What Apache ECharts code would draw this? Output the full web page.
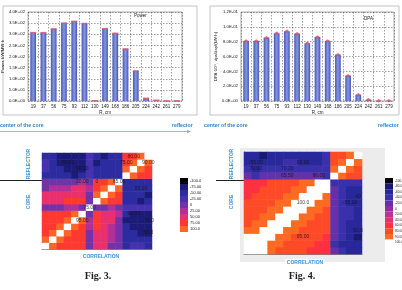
<!DOCTYPE html>
<html>
<head>
<meta charset="utf-8">
<script src="https://cdn.jsdelivr.net/npm/echarts@6/dist/echarts.min.js"></script>
<style>
  html, body { margin: 0; padding: 0; background: #fff; }
  #main { width: 402px; height: 290px; }
</style>
</head>
<body>
<div id="main"></div>
<script>
// radial positions, cm
var R_CM = ['19', '37', '56', '75', '93', '112', '130', '149', '168', '186', '205', '224', '242', '261', '279'];
// Fig.3 top: power per channel
var POWER = [307, 307, 324, 350, 358, 348, 1, 325, 304, 234, 135, 12, 3, 0.5, 0.5];
// Fig.4 top: DPA per channel
var DPA = [0.081, 0.081, 0.0854, 0.0912, 0.094, 0.0908, 0.0778, 0.0863, 0.081, 0.0625, 0.0342, 0.0085, 0.0018, 0.0003, 0.0002];

// axis ranges [min, max, step]
var POWER_AXIS = [0, 400, 50];
var DPA_AXIS = [0, 0.12, 0.02];

// correlation matrices, row = y index from bottom, col = x index from left
var CORR3 = [
  [100, 92, 86, 80, 76, 72, 5, 60, 40, 10, -10, -40, -30, -35, -45],
  [92, 100, 92, 86, 80, 76, 10, 55, 45, 15, -5, -45, -50, -55, -60],
  [86, 92, 100, 92, 86, 80, 0, 50, 50, 20, 0, -55, -60, -65, -70],
  [80, 86, 92, 100, 92, 86, 15, 65, 55, 30, 5, -60, -65, -70, -72],
  [76, 80, 86, 92, 100, 92, 20, 70, 60, 40, 10, -65, -70, -70, -75],
  [72, 76, 80, 86, 92, 100, 10, 72, 62, 45, 20, -60, -65, -68, -70],
  [5, 10, 0, 15, 20, 10, 100, 10, 5, 15, 0, -20, -15, -25, -20],
  [60, 55, 50, 65, 70, 72, 10, 100, 88, 82, 78, -55, -60, -65, -62],
  [40, 45, 50, 55, 60, 62, 5, 88, 100, 88, 82, -50, -58, -62, -65],
  [10, 15, 20, 30, 40, 45, 15, 82, 88, 100, 88, -45, -55, -60, -58],
  [-10, -5, 0, 5, 10, 20, 0, 78, 82, 88, 100, -40, -50, -55, -52],
  [-40, -45, -55, -60, -65, -60, -20, -55, -50, -45, -40, 100, 90, 85, 80],
  [-30, -50, -60, -65, -70, -65, -15, -60, -58, -55, -50, 90, 100, 90, 85],
  [-35, -55, -65, -70, -70, -68, -25, -65, -62, -60, -55, 85, 90, 100, 90],
  [-45, -60, -70, -72, -75, -70, -20, -62, -65, -58, -52, 80, 85, 90, 100]
];
var CORR4 = [
  [100, 97, 97, 91, 85, 80, 75, 72, 68, 65, 62, -25, -45, -60, -65],
  [97, 100, 97, 93, 91, 85, 80, 75, 72, 68, 65, -30, -50, -62, -68],
  [97, 97, 100, 97, 93, 91, 85, 80, 75, 72, 68, -20, -40, -55, -70],
  [91, 93, 97, 100, 97, 93, 91, 85, 80, 75, 72, -15, -45, -58, -65],
  [85, 91, 93, 97, 100, 97, 93, 91, 85, 80, 75, -25, -30, -60, -62],
  [80, 85, 91, 93, 97, 100, 97, 93, 91, 85, 80, -20, -35, -40, -60],
  [75, 80, 85, 91, 93, 97, 100, 97, 93, 91, 85, -15, -40, -45, -55],
  [72, 75, 80, 85, 91, 93, 97, 100, 97, 93, 91, -10, -30, -55, -65],
  [68, 72, 75, 80, 85, 91, 93, 97, 100, 97, 93, -20, -35, -58, -68],
  [65, 68, 72, 75, 80, 85, 91, 93, 97, 100, 97, -25, -45, -62, -60],
  [62, 65, 68, 72, 75, 80, 85, 91, 93, 97, 100, -35, -40, -45, -40],
  [-25, -30, -20, -15, -25, -20, -15, -10, -20, -25, -35, 100, 92, 85, 80],
  [-45, -50, -40, -45, -30, -35, -40, -30, -35, -45, -40, 92, 100, 92, 85],
  [-60, -62, -55, -58, -60, -40, -45, -55, -58, -62, -45, 85, 92, 100, 92],
  [-65, -68, -70, -65, -62, -60, -55, -65, -68, -60, -40, 80, 85, 92, 100]
];

// value labels written on the maps: [x, y, text]
var NOTES3 = [
  [3, 13, '50.00'], [5, 12, '90.00'], [12, 14, '80.00'], [11, 13, '75.00'], [14, 13, '90.00'],
  [5, 10, '20.00'], [7, 10, '0'], [10, 10, '65.00'], [13, 9, '55.00'], [6, 6, '75.00'],
  [5, 4, '95.00'], [12, 5, '60.00'], [14, 4, '-70.0'], [14, 2, '50.0']
];
var NOTES4 = [
  [1, 13, '-55.00'], [7, 13, '90.00'], [1, 12, '70.00'], [5, 12, '70.20'], [5, 11, '65.50'],
  [9, 11, '96.00'], [7, 7, '100.0'], [14, 8, '40'], [13, 7, '-55.00'], [14, 3, '60.0'], [7, 2, '95.00']
];

// colour scales
var LEGEND3 = ['-100.0', '-75.00', '-50.00', '-25.00', '0', '25.00', '50.00', '75.00', '100.0'];
var COLORS3 = ['#000000', '#1c1c78', '#2c2ca0', '#4632b0', '#7432a8', '#b0309a', '#e8306e', '#ff3830', '#ff6626'];
var LEGEND4 = ['-100.0', '-80.00', '-60.00', '-40.00', '-20.00', '0', '20.00', '40.00', '60.00', '80.00', '90.00', '100.0'];
var COLORS4 = ['#000000', '#1a1a70', '#28289a', '#3a30ac', '#6630a8', '#9030a0', '#c0309a', '#e8306a', '#ff3040', '#ff4a28', '#ff6a22', '#ffffff'];
var BOUNDS4 = [-110, -90, -70, -50, -30, -10, 10, 30, 50, 70, 90, 96, 101];

var IDX = [];
for (var i = 0; i < 15; i++) IDX.push(String(i));

function sci(v) {
  if (v === 0) return '0.0E+00';
  var e = Math.floor(Math.log10(Math.abs(v)) + 1e-9);
  var m = v / Math.pow(10, e);
  var a = Math.abs(e);
  return m.toFixed(1) + 'E' + (e < 0 ? '-' : '+') + (a < 10 ? '0' + a : a);
}

function cells(mat) {
  var out = [];
  for (var y = 0; y < mat.length; y++) {
    for (var x = 0; x < mat[y].length; x++) {
      out.push([x, y, mat[y][x]]);
    }
  }
  return out;
}

function pieces3() {
  var p = [];
  for (var k = 0; k < LEGEND3.length; k++) {
    var c = -100 + 25 * k;
    p.push({ min: c - 12.5, max: k === LEGEND3.length - 1 ? 99.5 : c + 12.5, label: LEGEND3[k], color: COLORS3[k] });
  }
  return p;
}

function pieces4() {
  var p = [];
  for (var k = 0; k < LEGEND4.length; k++) {
    p.push({ min: BOUNDS4[k], max: BOUNDS4[k + 1], label: LEGEND4[k], color: COLORS4[k] });
  }
  return p;
}

var FONT = 'Liberation Sans, Arial, sans-serif';
var dash = { color: '#444', width: 0.5, type: [1.5, 1.5] };
var barColor = new echarts.graphic.LinearGradient(0, 0, 1, 0, [
  { offset: 0, color: '#4556b4' },
  { offset: 0.5, color: '#8796e2' },
  { offset: 1, color: '#4556b4' }
]);

function barX(gi) {
  return {
    gridIndex: gi, type: 'category', data: R_CM,
    axisLine: { show: false }, axisTick: { show: false },
    axisLabel: { fontSize: 4.5, margin: 3, interval: 0, color: '#222', fontFamily: FONT },
    splitLine: { show: true, interval: 0, lineStyle: dash },
    name: 'R, cm', nameLocation: 'middle', nameGap: 9,
    nameTextStyle: { fontSize: 4.5, color: '#222', fontFamily: FONT }
  };
}

function barY(gi, ax, name, gap) {
  return {
    gridIndex: gi, type: 'value', min: ax[0], max: ax[1], interval: ax[2],
    axisLine: { show: false }, axisTick: { show: false },
    axisLabel: { fontSize: 4.3, margin: 3, color: '#222', fontFamily: FONT, formatter: sci },
    splitLine: { show: true, lineStyle: dash },
    name: name, nameLocation: 'middle', nameGap: gap, nameRotate: 90,
    nameTextStyle: { fontSize: 4.3, color: '#222', fontFamily: FONT }
  };
}

var TICK_AT = [4, 7, 11, 14];
function mapAxis(gi) {
  return {
    gridIndex: gi, type: 'category', data: IDX,
    axisLabel: { show: false },
    axisLine: { lineStyle: { color: '#333', width: 0.6 } },
    axisTick: {
      length: 3, lineStyle: { color: '#333', width: 0.6 },
      interval: function (idx) { return TICK_AT.indexOf(idx) >= 0; }
    },
    splitLine: { show: false }
  };
}

function notes(xi, list) {
  return {
    type: 'scatter', xAxisIndex: xi, yAxisIndex: xi, symbolSize: 0, silent: true, z: 5,
    data: list.map(function (n) { return { value: [n[0], n[1]], name: n[2] }; }),
    label: { show: true, position: 'inside', formatter: '{b}', fontSize: 5, color: '#111', fontFamily: FONT }
  };
}

var blue = '#3a94d6';
var chart = echarts.init(document.getElementById('main'), null, { renderer: 'canvas' });
chart.setOption({
  animation: false,
  backgroundColor: '#fff',
  grid: [
    { left: 28, top: 12, width: 154, height: 89, show: true, borderColor: '#777', borderWidth: 0.6, backgroundColor: '#fff' },
    { left: 241, top: 12, width: 153, height: 89, show: true, borderColor: '#777', borderWidth: 0.6, backgroundColor: '#fff' },
    { left: 42, top: 153, width: 110, height: 96 },
    { left: 244, top: 152, width: 118, height: 102 }
  ],
  xAxis: [barX(0), barX(1), mapAxis(2), mapAxis(3)],
  yAxis: [
    barY(0, POWER_AXIS, 'Power, kW/MW\u00b7h', 16),
    barY(1, DPA_AXIS, 'DPA\u00b710\u207b\u2076, dpa/day/(kW\u00b7h)', 17),
    mapAxis(2), mapAxis(3)
  ],
  visualMap: [
    {
      type: 'piecewise', seriesIndex: 4, orient: 'vertical', inverse: true,
      left: 165, top: 163, itemWidth: 8, itemHeight: 6, itemGap: 0, itemSymbol: 'rect',
      textGap: 2, align: 'left', selectedMode: false,
      pieces: pieces3(), outOfRange: { color: '#ffffff' },
      textStyle: { fontSize: 4, color: '#222', fontFamily: FONT }
    },
    {
      type: 'piecewise', seriesIndex: 6, orient: 'vertical', inverse: true,
      left: 370, top: 163, itemWidth: 8, itemHeight: 5.6, itemGap: 0, itemSymbol: 'rect',
      textGap: 2, align: 'left', selectedMode: false,
      pieces: pieces4(), outOfRange: { color: '#ffffff' },
      textStyle: { fontSize: 3.2, color: '#222', fontFamily: FONT }
    }
  ],
  series: [
    { type: 'bar', xAxisIndex: 0, yAxisIndex: 0, data: POWER, barWidth: '56%', itemStyle: { color: barColor } },
    { type: 'scatter', xAxisIndex: 0, yAxisIndex: 0, data: POWER, symbol: 'rect', symbolSize: [6, 1.6], itemStyle: { color: '#d5506a' }, z: 4 },
    { type: 'bar', xAxisIndex: 1, yAxisIndex: 1, data: DPA, barWidth: '56%', itemStyle: { color: barColor } },
    { type: 'scatter', xAxisIndex: 1, yAxisIndex: 1, data: DPA, symbol: 'diamond', symbolSize: [5, 3.5], itemStyle: { color: '#d8485a' }, z: 4 },
    { type: 'heatmap', xAxisIndex: 2, yAxisIndex: 2, data: cells(CORR3), itemStyle: { borderWidth: 0 } },
    notes(2, NOTES3),
    { type: 'heatmap', xAxisIndex: 3, yAxisIndex: 3, data: cells(CORR4), itemStyle: { borderWidth: 0 } },
    notes(3, NOTES4)
  ],
  graphic: [
    // chart area frames of the two Excel plots
    { type: 'rect', shape: { x: 3, y: 6, width: 194, height: 109 }, style: { fill: null, stroke: '#c4c4c4', lineWidth: 1 }, z: -1 },
    { type: 'rect', shape: { x: 210, y: 6, width: 189, height: 109 }, style: { fill: null, stroke: '#c4c4c4', lineWidth: 1 }, z: -1 },
    { type: 'text', x: 134, y: 13, style: { text: 'Power', fontSize: 4.5, fill: '#222', fontFamily: FONT } },
    { type: 'text', x: 364, y: 16, style: { text: 'DPA', fontSize: 4.5, fill: '#222', fontFamily: FONT } },
    // under-axis captions
    { type: 'text', x: 0, y: 123, style: { text: 'center of the core', fontSize: 5.2, fontWeight: 'bold', fill: '#2a86cc', fontFamily: FONT } },
    { type: 'text', x: 172, y: 123, style: { text: 'reflector', fontSize: 5.2, fontWeight: 'bold', fill: '#2a86cc', fontFamily: FONT } },
    { type: 'text', x: 204, y: 123, style: { text: 'center of the core', fontSize: 5.2, fontWeight: 'bold', fill: '#2a86cc', fontFamily: FONT } },
    { type: 'text', x: 378, y: 123, style: { text: 'reflector', fontSize: 5.2, fontWeight: 'bold', fill: '#2a86cc', fontFamily: FONT } },
    { type: 'line', shape: { x1: 0, y1: 131.5, x2: 190, y2: 131.5 }, style: { stroke: '#6aaee0', lineWidth: 0.8 } },
    { type: 'polygon', shape: { points: [[191, 131.5], [187, 130], [187, 133]] }, style: { fill: '#6aaee0' } },
    // Fig.4 panel background
    { type: 'rect', shape: { x: 240, y: 148, width: 145, height: 114 }, style: { fill: '#ececec' }, z: -10 },
    // core / reflector separators
    { type: 'line', shape: { x1: 0, y1: 180.5, x2: 42, y2: 180.5 }, style: { stroke: '#222', lineWidth: 1 } },
    { type: 'line', shape: { x1: 216, y1: 180.5, x2: 244, y2: 180.5 }, style: { stroke: '#222', lineWidth: 1 } },
    { type: 'text', x: 29, y: 164, rotation: Math.PI / 2, style: { text: 'REFLECTOR', fontSize: 5, fontWeight: 'bold', fill: blue, align: 'center', verticalAlign: 'middle', fontFamily: FONT } },
    { type: 'text', x: 29, y: 202, rotation: Math.PI / 2, style: { text: 'CORE', fontSize: 5, fontWeight: 'bold', fill: blue, align: 'center', verticalAlign: 'middle', fontFamily: FONT } },
    { type: 'text', x: 232, y: 164, rotation: Math.PI / 2, style: { text: 'REFLECTOR', fontSize: 5, fontWeight: 'bold', fill: blue, align: 'center', verticalAlign: 'middle', fontFamily: FONT } },
    { type: 'text', x: 232, y: 202, rotation: Math.PI / 2, style: { text: 'CORE', fontSize: 5, fontWeight: 'bold', fill: blue, align: 'center', verticalAlign: 'middle', fontFamily: FONT } },
    { type: 'text', x: 101, y: 257, style: { text: 'CORRELATION', fontSize: 5, fontWeight: 'bold', fill: blue, align: 'center', verticalAlign: 'middle', fontFamily: FONT } },
    { type: 'rect', shape: { x: 285, y: 259, width: 40, height: 8 }, style: { fill: '#fff' } },
    { type: 'text', x: 305, y: 263, style: { text: 'CORRELATION', fontSize: 5, fontWeight: 'bold', fill: blue, align: 'center', verticalAlign: 'middle', fontFamily: FONT } },
    // figure captions
    { type: 'text', x: 98, y: 276, style: { text: 'Fig. 3.', fontSize: 10, fontWeight: 'bold', fill: '#222', align: 'center', verticalAlign: 'middle', fontFamily: 'Liberation Serif, Times New Roman, serif' } },
    { type: 'text', x: 302, y: 276, style: { text: 'Fig. 4.', fontSize: 10, fontWeight: 'bold', fill: '#222', align: 'center', verticalAlign: 'middle', fontFamily: 'Liberation Serif, Times New Roman, serif' } }
  ]
});
</script>
</body>
</html>
